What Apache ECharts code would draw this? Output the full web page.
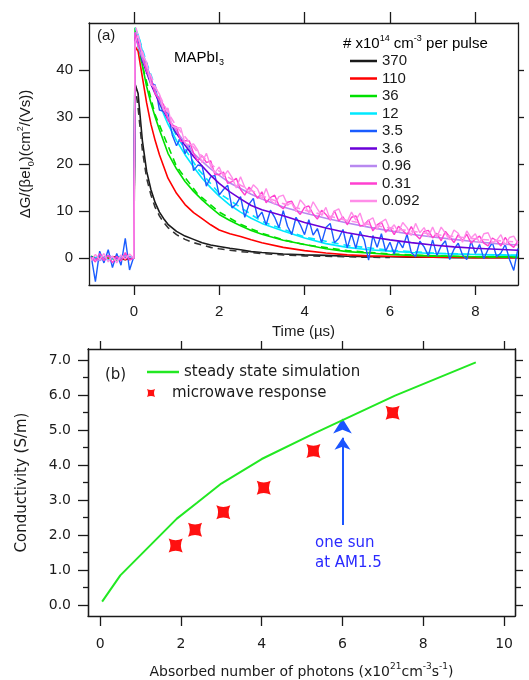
<!DOCTYPE html>
<html><head><meta charset="utf-8">
<script src="https://cdn.jsdelivr.net/npm/echarts@6/dist/echarts.min.js"></script>
<style>html,body{margin:0;padding:0;background:#fff}#c{width:529px;height:680px}</style>
</head><body><div id="c"></div><script>
// ---------- Panel (a) data ----------
const tCoarse = [-1.0,-0.8,-0.6,-0.4,-0.2,0.0,0.03,0.1,0.2,0.3,0.4,0.5,0.6,0.7,0.8,1.0,1.2,1.4,1.6,1.8,2.0,2.25,2.5,2.75,3.0,3.5,4.0,4.5,5.0,5.5,6.0,6.5,7.0,7.5,8.0,8.5,9.0];
const tFine = [-1.0,-0.9,-0.8,-0.7,-0.6,-0.5,-0.4,-0.3,-0.2,-0.1,0.0,0.03,
 0.1,0.2,0.3,0.4,0.5,0.6,0.7,0.8,0.9,1.0,
 1.1,1.2,1.3,1.4,1.5,1.6,1.7,1.8,1.9,2.0,
 2.1,2.2,2.3,2.4,2.5,2.6,2.7,2.8,2.9,3.0,
 3.1,3.2,3.3,3.4,3.5,3.6,3.7,3.8,3.9,4.0,
 4.1,4.2,4.3,4.4,4.5,4.6,4.7,4.8,4.9,5.0,
 5.1,5.2,5.3,5.4,5.5,5.6,5.7,5.8,5.9,6.0,
 6.1,6.2,6.3,6.4,6.5,6.6,6.7,6.8,6.9,7.0,
 7.1,7.2,7.3,7.4,7.5,7.6,7.7,7.8,7.9,8.0,
 8.1,8.2,8.3,8.4,8.5,8.6,8.7,8.8,8.9,9.0];

const v370 = [0.3,-0.2,0.4,0.1,-0.3,0.2, 37,35,25,18.5,14.6,11.8,9.8,8.4,7.2, 5.7,4.7,4.0,3.3,2.8,2.5, 2.1,1.8,1.4,1.2, 0.9,0.7,0.6,0.4,0.3,0.3,0.2,0.2,0.1,0.1,0.1,0.1];
const v110 = [-0.2,0.3,-0.1,0.4,-0.3,0.1, 45,44,38.5,33,28.5,25,22,19.5,17, 13.8,11.4,9.7,8.4,7.1,6.0, 5.2,4.6,3.9,3.3, 2.3,1.6,1.1,0.7,0.5,0.4,0.3,0.2,0.2,0.1,0.1,0.1];
const v36 = [0.4,-0.3,0.2,-0.4,0.3,0.0, 49,46,41,36.5,33,30,27.3,24.8,22.3, 19,16.3,14.2,12.4,10.8,9.3, 8.0,6.9,5.9,5.1, 3.8,2.9,2.0,1.4,1.1,0.8,0.6,0.5,0.4,0.3,0.3,0.3];
const v12 = [-0.3,0.5,-0.4,0.2,0.6,0.1, 48,47.5,44,41,38.2,35.5,33,30.6,28.5, 25,22,19.4,17,15,13.2, 11.3,9.8,8.5,7.4, 5.8,4.3,3.1,2.3,1.8,1.5,1.2,1.0,0.9,0.8,0.7,0.6];
const v3p6 = [0.2,-0.4,0.5,-0.2,0.3,0.0, 47,45.5,42,39.5,37,35,33,31.2,29.5, 26.5,24,21.6,19.6,17.6,15.9, 14.1,12.6,11.2,10.3, 9.0,7.6,6.4,5.4,4.6,3.9,3.3,2.8,2.4,2.1,1.9,1.7];
const v0p96 = [0.1,-0.5,0.6,-0.3,0.4,0.0, 48,45,42.5,40,37.5,35.5,33.5,31.5,30, 27,24.5,22.3,20.6,19,17.6, 16,14.8,13.6,12.6, 10.9,9.6,8.5,7.5,6.6,5.8,5.1,4.5,4.0,3.5,3.1,2.8];
const v3p5 = [0.5,-5.0,1.5,-1.0,1.8,-2.0,1.0,-1.5,4.2,-2.5,0.3, 47,
 46.5,41.8,41.5,37.2,36.8,31.5,31.2,30.9,26.2,23.9,
 25.7,22.2,24.0,18.6,19.8,19.6,15.3,17.3,17.6,13.4,
 14.6,15.5,10.7,11.5,13.1,8.7,11.5,12.7,8.6,9.8,
 7.1,10.2,8.7,6.5,10.1,6.8,5.0,8.7,7.1,5.0,
 8.2,4.9,6.3,3.3,6.5,7.4,3.3,4.2,6.1,2.2,
 5.2,2.1,5.7,3.8,-0.4,4.8,2.3,5.2,1.5,3.4,
 0.9,3.7,2.2,5.1,1.2,0.3,3.6,2.4,0.5,3.9,
 0.6,2.6,3.7,-0.3,1.9,3.2,0.7,-0.3,3.6,1.0,
 2.9,-0.1,1.9,3.3,0.3,1.1,2.9,-0.2,-2.6,2.1];
const v0p31 = [0.2,-0.8,1.0,-0.5,0.6,-1.0,0.4,-0.6,1.2,-0.4,0.0, 48,
 45.5,43.8,39.7,38.5,34.9,33.9,32.6,29.3,28.3,27.9,
 24.8,25.0,24.9,22.3,20.7,21.8,20.3,20.7,17.8,17.8,
 18.3,15.9,16.3,17.0,14.6,13.4,15.1,14.1,12.7,14.1,
 11.8,12.9,13.4,11.2,10.5,11.9,12.1,10.3,9.3,10.8,
 11.1,9.4,8.3,10.2,9.3,8.1,10.1,7.9,8.8,7.1,
 8.7,9.0,6.8,7.1,8.1,5.8,7.1,7.7,5.5,6.5,
 5.0,6.8,5.9,5.0,6.7,5.0,4.1,5.7,5.9,4.3,
 5.3,3.7,5.7,4.5,3.3,5.0,3.7,5.1,3.2,4.1,
 4.7,3.2,2.6,4.3,3.7,2.6,4.4,3.0,2.3,3.7];
const v0p092 = [-0.5,0.8,-0.3,1.0,-0.8,0.5,-1.0,0.7,-0.2,0.9,0.0, 46,
 47.4,43.1,41.7,36.9,36.3,34.9,31.4,31.9,28.0,27.8,
 27.7,24.4,24.1,24.3,22.9,20.3,22.3,19.6,18.2,19.4,
 17.3,18.6,17.2,14.9,17.3,15.1,13.9,15.6,14.7,12.5,
 14.8,12.3,11.5,13.1,13.4,11.4,11.7,9.9,12.4,11.3,
 9.6,12.0,10.5,9.1,10.8,8.2,10.0,10.5,8.4,7.8,
 9.8,8.1,9.6,6.8,8.0,8.6,6.1,7.7,8.3,6.1,
 7.1,5.5,7.6,6.5,4.8,7.4,5.4,6.5,4.6,6.6,
 4.5,6.6,5.3,3.9,6.0,5.3,3.4,5.8,4.3,5.2,
 3.2,5.2,5.4,3.3,3.8,5.0,2.8,4.4,4.7,3.1];

// fitted (dashed) curves
const fitBlackT = [0.03,0.1,0.2,0.3,0.4,0.5,0.6,0.7,0.8,1.0,1.2,1.4,1.6,1.8,2.0,2.25,2.5,2.75,3.0,3.5,4.0,4.5,5.0,5.5,6.0];
const fitBlackV = [37,32,23,17,13.5,10.8,9,7.6,6.5,5.0,4.0,3.3,2.8,2.3,2.0,1.7,1.4,1.2,1.0,0.7,0.5,0.4,0.3,0.2,0.15];
const fitGreenT = [0.03,0.2,0.5,1.0,1.5,2.0,2.5,3.0,3.5,4.0,5.0,6.0,7.0,8.0,9.0];
const fitGreenV = [48,41,30.5,19.5,13.6,9.8,7.2,5.3,3.9,2.9,1.6,0.9,0.5,0.3,0.2];
const fitCyanT = [0.03,0.1,0.2,0.3,0.4,0.5,0.6,0.8,1.0,1.5,2.0,3.0,4.0,5.0,6.0,7.0,8.0,9.0];
const fitCyanV = [49,47.5,44.5,41.5,39,36.5,34,29.5,26,19,13.8,7.8,4.5,2.7,1.7,1.1,0.8,0.6];
const fitPinkT = [0.05,0.1,0.2,0.3,0.5,0.8,1.0,1.5,2.0,2.5,3.0,3.5,4.0,5.0,6.0,7.0,8.0,9.0];
const fitPinkV = [49,47,44,41,36.5,31,28,22.5,18.5,15.5,13.3,11.6,10.2,8.0,6.4,5.1,4.1,3.4];

const legendNames = ['370','110','36','12','3.5','3.6','0.96','0.31','0.092'];
const legendColors = ['#1a1a1a','#ff0000','#00e000','#00e8ff','#1a5cff','#6a00d8','#b888f0','#ff40d0','#ff8de8'];
const xTicksA = [0,2,4,6,8];
const yTicksA = [0,10,20,30,40];

// ---------- Panel (b) data ----------
const simX = [0.05,0.5,1.9,2.4,3.0,4.0,5.3,7.3,9.3];
const simY = [0.1,0.85,2.47,2.92,3.47,4.17,4.9,5.98,6.93];
const mwX = [1.87,2.35,3.05,4.05,5.28,7.24];
const mwY = [1.7,2.15,2.65,3.35,4.4,5.49];
const sunX = [6.0];
const sunY = [5.33];
const arrowFrom = [6.0, 2.29];
const arrowTo = [6.0, 4.78];
const xTicksB = [0,2,4,6,8,10];
const yTicksB = [0,1,2,3,4,5,6,7];
const yHalfB = [0.5,1.5,2.5,3.5,4.5,5.5,6.5];

const pairs = (t, v) => t.map((x, i) => [x, v[i]]);
const FA = 'Liberation Sans';
const FB = 'DejaVu Sans';
const INK = '#1a1a1a';

function richSet(ff, fs) {
  return {
    n: {fontSize: fs, lineHeight: 20, fontFamily: ff, color: INK},
    sup: {fontSize: Math.round(fs*0.62), lineHeight: 8, verticalAlign: 'top', fontFamily: ff, color: INK},
    sub: {fontSize: Math.round(fs*0.62), lineHeight: 10, verticalAlign: 'bottom', fontFamily: ff, color: INK}
  };
}

const axLine = {show: true, onZero: false, lineStyle: {color: INK, width: 1.3}};
const tickStyle = {color: INK, width: 1.3};

function mainLine(name, t, v, idx, w) {
  return {type: 'line', name: name, xAxisIndex: 0, yAxisIndex: 0, data: pairs(t, v),
    symbol: 'none', lineStyle: {color: legendColors[idx], width: w}, itemStyle: {color: legendColors[idx]}, z: 2 + idx};
}
function fitLine(t, v, color, z) {
  return {type: 'line', name: 'fit', xAxisIndex: 0, yAxisIndex: 0, data: pairs(t, v), symbol: 'none',
    lineStyle: {color: color, width: 1.6, type: [7, 5]}, z: z};
}

const starPath = 'path://M0,0 Q10,5 20,0 Q15,10 20,20 Q10,15 0,20 Q5,10 0,0 Z';

const option = {
  animation: false,
  backgroundColor: '#fff',
  grid: [
    {left: 89, top: 23, width: 429, height: 262},
    {left: 88, top: 349, width: 427, height: 267}
  ],
  xAxis: [
    {gridIndex: 0, type: 'value', position: 'bottom', min: -1.05, max: 9, axisLine: axLine,
     axisTick: {show: true, customValues: xTicksA, length: 10, lineStyle: tickStyle},
     axisLabel: {customValues: xTicksA, fontSize: 15, fontFamily: FA, color: INK, margin: 19},
     splitLine: {show: false},
     name: 'Time (µs)', nameLocation: 'middle', nameGap: 39,
     nameTextStyle: {fontSize: 15, fontFamily: FA, color: INK}},
    {gridIndex: 0, type: 'value', position: 'top', min: -1.05, max: 9, axisLine: axLine,
     axisTick: {show: true, customValues: xTicksA, length: 11, lineStyle: tickStyle},
     axisLabel: {show: false}, splitLine: {show: false}},
    {gridIndex: 1, type: 'value', position: 'bottom', min: -0.3, max: 10.27, axisLine: axLine,
     axisTick: {show: true, customValues: xTicksB, length: 10, lineStyle: tickStyle},
     axisLabel: {customValues: xTicksB, fontSize: 14, fontFamily: FB, color: INK, margin: 21},
     splitLine: {show: false},
     name: '{n|Absorbed number of photons (x10}{sup|21}{n|cm}{sup|-3}{n|s}{sup|-1}{n|)}',
     nameLocation: 'middle', nameGap: 46,
     nameTextStyle: {fontSize: 14, fontFamily: FB, color: INK, rich: richSet(FB, 14)}},
    {gridIndex: 1, type: 'value', position: 'top', min: -0.3, max: 10.27, axisLine: axLine,
     axisTick: {show: true, customValues: xTicksB, length: 8, lineStyle: tickStyle},
     axisLabel: {show: false}, splitLine: {show: false}}
  ],
  yAxis: [
    {gridIndex: 0, type: 'value', position: 'left', min: -5.7, max: 50, axisLine: axLine,
     axisTick: {show: true, customValues: yTicksA, length: 10, lineStyle: tickStyle},
     axisLabel: {customValues: yTicksA, fontSize: 15, fontFamily: FA, color: INK, margin: 16},
     splitLine: {show: false},
     name: '{n|ΔG/(βeI}{sub|0}{n|)(cm}{sup|2}{n|/(Vs))}', nameLocation: 'middle', nameGap: 53, nameRotate: 90,
     nameTextStyle: {fontSize: 15, fontFamily: FA, color: INK, rich: richSet(FA, 15)}},
    {gridIndex: 0, type: 'value', position: 'right', min: -5.7, max: 50, axisLine: axLine,
     axisTick: {show: true, customValues: yTicksA, length: 6, lineStyle: tickStyle},
     axisLabel: {show: false}, splitLine: {show: false}},
    {gridIndex: 1, type: 'value', position: 'left', min: -0.31, max: 7.31, axisLine: axLine,
     axisTick: {show: true, customValues: yTicksB, length: 10, lineStyle: tickStyle},
     axisLabel: {customValues: yTicksB, fontSize: 14, fontFamily: FB, color: INK, margin: 17,
       formatter: v => Number(v).toFixed(1)},
     splitLine: {show: false},
     name: 'Conductivity (S/m)', nameLocation: 'middle', nameGap: 58, nameRotate: 90,
     nameTextStyle: {fontSize: 15, fontFamily: FB, color: INK}},
    {gridIndex: 1, type: 'value', position: 'left', min: -0.31, max: 7.31, axisLine: axLine,
     axisTick: {show: true, customValues: yHalfB, length: 5, lineStyle: tickStyle},
     axisLabel: {show: false}, splitLine: {show: false}},
    {gridIndex: 1, type: 'value', position: 'right', min: -0.31, max: 7.31, axisLine: axLine,
     axisTick: {show: true, customValues: yTicksB, length: 8, lineStyle: tickStyle},
     axisLabel: {show: false}, splitLine: {show: false}},
    {gridIndex: 1, type: 'value', position: 'right', min: -0.31, max: 7.31, axisLine: axLine,
     axisTick: {show: true, customValues: yHalfB, length: 6, lineStyle: tickStyle},
     axisLabel: {show: false}, splitLine: {show: false}}
  ],
  legend: [
    {data: legendNames.map(n => ({name: n, icon: 'rect'})), orient: 'vertical', left: 345, top: 48.5,
     itemWidth: 27, itemHeight: 2.5, itemGap: 2.5,
     textStyle: {fontSize: 15, lineHeight: 15, fontFamily: FA, color: INK}, selectedMode: false},
    {data: [{name: 'steady state simulation', icon: 'rect'}], orient: 'vertical', left: 142, top: 359.5,
     itemWidth: 32, itemHeight: 2.5,
     textStyle: {fontSize: 15, lineHeight: 15, fontFamily: FB, color: INK}, selectedMode: false},
    {data: ['microwave response'], orient: 'vertical', left: 142, top: 380.5, itemWidth: 32, itemHeight: 8,
     textStyle: {fontSize: 15, lineHeight: 15, fontFamily: FB, color: INK}, selectedMode: false}
  ],
  series: [
    mainLine(legendNames[0], tCoarse, v370, 0, 1.6),
    fitLine(fitBlackT, fitBlackV, '#333333', 3),
    mainLine(legendNames[1], tCoarse, v110, 1, 1.6),
    mainLine(legendNames[2], tCoarse, v36, 2, 1.6),
    fitLine(fitGreenT, fitGreenV, '#00e000', 5),
    mainLine(legendNames[3], tCoarse, v12, 3, 1.6),
    fitLine(fitCyanT, fitCyanV, '#00e8ff', 6),
    mainLine(legendNames[4], tFine, v3p5, 4, 1.4),
    mainLine(legendNames[5], tCoarse, v3p6, 5, 1.6),
    mainLine(legendNames[6], tCoarse, v0p96, 6, 1.6),
    mainLine(legendNames[7], tFine, v0p31, 7, 1.4),
    mainLine(legendNames[8], tFine, v0p092, 8, 1.4),
    fitLine(fitPinkT, fitPinkV, '#ff8de8', 12),
    {type: 'line', name: 'steady state simulation', xAxisIndex: 2, yAxisIndex: 2, data: pairs(simX, simY),
     symbol: 'none', lineStyle: {color: '#22e822', width: 2}, itemStyle: {color: '#22e822'}},
    {type: 'scatter', name: 'microwave response', xAxisIndex: 2, yAxisIndex: 2, data: pairs(mwX, mwY),
     symbol: starPath, symbolSize: 14, itemStyle: {color: '#ff1010', opacity: 1},
     markLine: {silent: true, symbol: ['none', 'arrow'], symbolSize: 12,
       lineStyle: {color: '#1a55ff', width: 2, type: 'solid', opacity: 1}, label: {show: false},
       data: [[{coord: arrowFrom}, {coord: arrowTo}]]}},
    {type: 'scatter', name: 'sun', xAxisIndex: 2, yAxisIndex: 2, data: pairs(sunX, sunY),
     symbol: 'arrow', symbolSize: [14, 15], itemStyle: {color: '#1a55ff', opacity: 1}}
  ],
  graphic: [
    {type: 'text', left: 97, top: 28, style: {text: '(a)', font: '15px "Liberation Sans"', fill: INK}},
    {type: 'text', left: 174, top: 50, style: {text: '{n|MAPbI}{sub|3}', rich: richSet(FA, 15)}},
    {type: 'text', left: 343, top: 34, style: {text: '{n|# x10}{sup|14}{n| cm}{sup|-3}{n| per pulse}', rich: richSet(FA, 15)}},
    {type: 'text', left: 105, top: 368, style: {text: '(b)', font: '15px "DejaVu Sans"', fill: INK}},
    {type: 'text', left: 315, top: 533, style: {text: 'one sun\nat AM1.5', font: '15px "DejaVu Sans"', fill: '#2a2aff', lineHeight: 20}}
  ]
};
const chart = echarts.init(document.getElementById('c'), null, {renderer: 'canvas'});
chart.setOption(option);
</script></body></html>
